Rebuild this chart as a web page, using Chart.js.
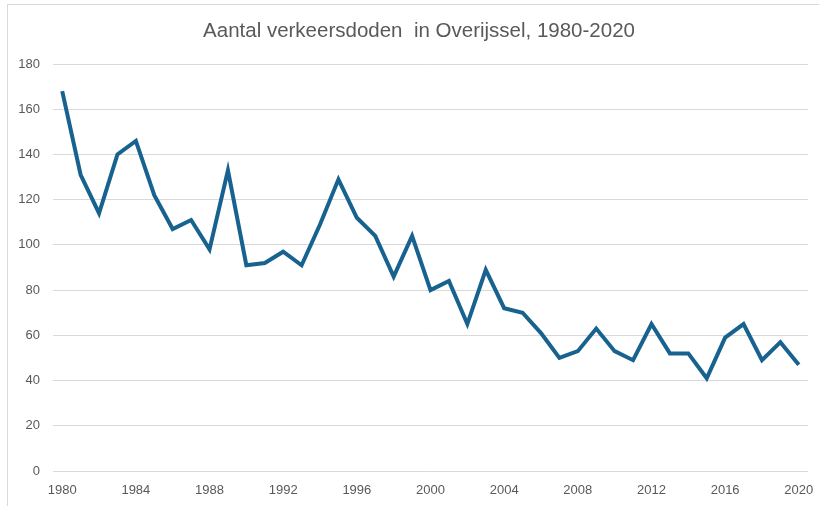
<!DOCTYPE html>
<html>
<head>
<meta charset="utf-8">
<script src="https://cdn.jsdelivr.net/npm/chart.js@4/dist/chart.umd.min.js"></script>
<style>
  html, body { margin: 0; padding: 0; background: #ffffff; }
  #wrap { position: relative; width: 819px; height: 506px; overflow: hidden; }
  #frame { position: absolute; left: 7px; top: 4px; width: 900px; height: 600px; border: 1px solid #d9d9d9; box-sizing: border-box; pointer-events: none; }
  canvas { position: absolute; left: 0; top: 0; }
</style>
</head>
<body>
<div id="wrap">
  <canvas id="c" width="819" height="506"></canvas>
  <div id="frame"></div>
</div>
<script>
const years = ["1980","1981","1982","1983","1984","1985","1986","1987","1988","1989",
               "1990","1991","1992","1993","1994","1995","1996","1997","1998","1999",
               "2000","2001","2002","2003","2004","2005","2006","2007","2008","2009",
               "2010","2011","2012","2013","2014","2015","2016","2017","2018","2019","2020"];
const deaths = [168,131,114,140,146,122,107,111,98,133,
                91,92,97,91,109,129,112,104,86,104,
                80,84,65,89,72,70,61,50,53,63,
                53,49,65,52,52,41,59,65,49,57,47];
const yTicks = [0,20,40,60,80,100,120,140,160,180];
const titleText = "Aantal verkeersdoden  in Overijssel, 1980-2020";

const txt = "#595959";
const titleFont = "20.5px 'Liberation Sans', Arial, sans-serif";

const titlePlugin = {
  id: "centeredTitle",
  afterDraw(chart) {
    const ctx = chart.ctx;
    ctx.save();
    ctx.font = titleFont;
    ctx.fillStyle = txt;
    ctx.textAlign = "center";
    ctx.textBaseline = "middle";
    ctx.fillText(titleText, 419, 31);
    ctx.restore();
  }
};

new Chart(document.getElementById("c"), {
  type: "line",
  data: {
    labels: years,
    datasets: [{
      data: deaths,
      borderColor: "#17628f",
      borderWidth: 4,
      pointRadius: 0,
      tension: 0,
      fill: false,
      borderJoinStyle: "miter"
    }]
  },
  plugins: [titlePlugin],
  options: {
    responsive: false,
    animation: false,
    layout: { padding: { left: 0, right: 11, top: 64, bottom: 0 } },
    plugins: {
      legend: { display: false },
      tooltip: { enabled: false },
      title: { display: false }
    },
    scales: {
      x: {
        offset: true,
        grid: { display: false, drawTicks: false },
        border: { display: false },
        ticks: {
          autoSkip: false,
          maxRotation: 0,
          padding: 12,
          color: txt,
          font: { family: "'Liberation Sans', Arial, sans-serif", size: 13 },
          callback: function(v, i) { return i % 4 === 0 ? years[i] : ""; }
        },
        afterFit: function(s) { s.height = 35; s.paddingLeft = 0; s.paddingRight = 0; }
      },
      y: {
        min: 0, max: 180,
        afterBuildTicks: function(s) { s.ticks = yTicks.map(v => ({ value: v })); },
        grid: { color: "#d9d9d9", lineWidth: 1, drawTicks: false },
        border: { display: false },
        ticks: {
          padding: 13,
          color: txt,
          font: { family: "'Liberation Sans', Arial, sans-serif", size: 13 }
        },
        afterFit: function(s) { s.width = 53; s.paddingTop = 0; s.paddingBottom = 0; }
      }
    }
  }
});
</script>
</body>
</html>
